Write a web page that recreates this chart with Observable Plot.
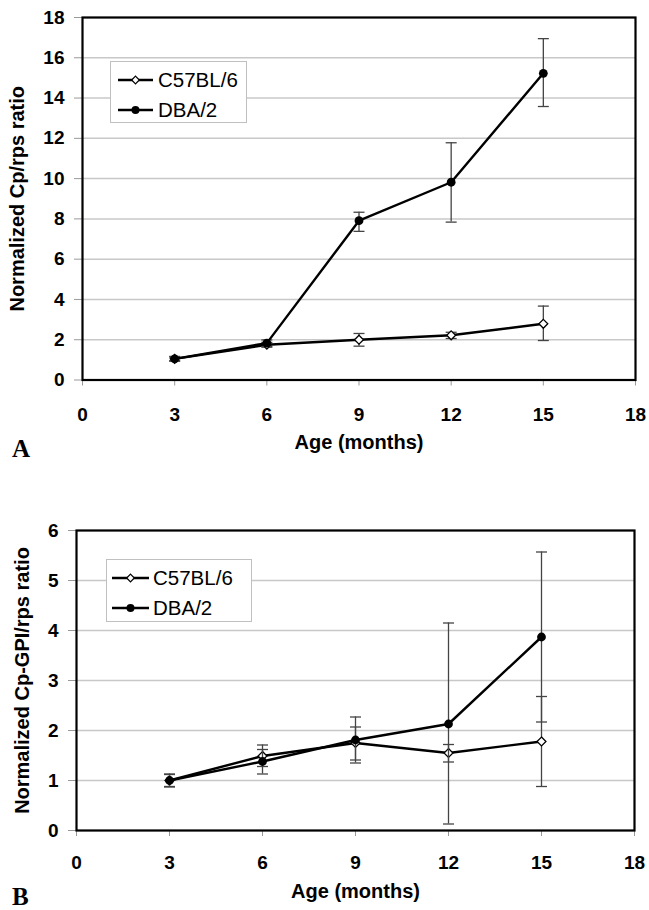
<!DOCTYPE html>
<html><head><meta charset="utf-8">
<script src="https://cdn.jsdelivr.net/npm/d3@7"></script>
<script src="https://cdn.jsdelivr.net/npm/@observablehq/plot@0.6"></script>
<style>
body{margin:0;background:#fff;}
#wrap{position:relative;width:649px;height:910px;overflow:hidden;background:#fff;}
.panel{position:absolute;left:0;}
.panel g[aria-label$="tick label"]{font-size:19px;font-weight:bold;}
.tag{position:absolute;font-family:"Liberation Serif","Times New Roman",serif;font-weight:bold;font-size:25px;line-height:1;}
.legend{position:absolute;}
</style></head><body>
<div id="wrap"></div>
<script>
// ---- shared ----
const months = [3, 6, 9, 12, 15];
const xTicks = [0, 3, 6, 9, 12, 15, 18];
const strains = ["C57BL/6", "DBA/2"];
const xTitle = "Age (months)";

// ---- panel A: Cp/rps ----
const aTitle = "Normalized Cp/rps ratio";
const aTicks = [0, 2, 4, 6, 8, 10, 12, 14, 16, 18];
const aC57 = [1.05, 1.75, 2.0, 2.22, 2.79];
const aC57Lo = [0.96, 1.63, 1.68, 2.06, 1.96];
const aC57Hi = [1.14, 1.87, 2.31, 2.37, 3.67];
const aDBA = [1.05, 1.83, 7.91, 9.82, 15.23];
const aDBALo = [0.93, 1.66, 7.38, 7.84, 13.58];
const aDBAHi = [1.17, 1.99, 8.33, 11.78, 16.95];

// ---- panel B: Cp-GPI/rps ----
const bTitle = "Normalized Cp-GPI/rps ratio";
const bTicks = [0, 1, 2, 3, 4, 5, 6];
const bC57 = [1.0, 1.49, 1.75, 1.55, 1.78];
const bC57Lo = [0.88, 1.28, 1.41, 1.37, 0.88];
const bC57Hi = [1.12, 1.71, 2.07, 1.72, 2.68];
const bDBA = [1.0, 1.38, 1.81, 2.13, 3.87];
const bDBALo = [0.87, 1.13, 1.35, 0.13, 2.17];
const bDBAHi = [1.13, 1.62, 2.27, 4.15, 5.57];

function rows(values, lo, hi, strain) {
  return months.map((m, i) => ({month: m, strain, value: values[i], lo: lo[i], hi: hi[i]}));
}

const capSymbol = {draw(ctx, size) { const w = Math.sqrt(size / Math.PI); ctx.moveTo(-w, 0); ctx.lineTo(w, 0); }};

function seriesMarks(data, open) {
  return [
    Plot.ruleX(data, {x: "month", y1: "lo", y2: "hi", stroke: "#444", strokeWidth: 1.3}),
    Plot.dot(data, {x: "month", y: "lo", symbol: capSymbol, r: 5.5, stroke: "#444", strokeWidth: 1.3, fill: "none"}),
    Plot.dot(data, {x: "month", y: "hi", symbol: capSymbol, r: 5.5, stroke: "#444", strokeWidth: 1.3, fill: "none"}),
    Plot.line(data, {x: "month", y: "value", stroke: "black", strokeWidth: 2.4}),
    open
      ? Plot.dot(data, {x: "month", y: "value", symbol: "diamond2", r: 4, fill: "white", stroke: "black", strokeWidth: 1.3})
      : Plot.dot(data, {x: "month", y: "value", symbol: "circle", r: 4.4, fill: "black"})
  ];
}

function panel(cfg) {
  const c57 = rows(cfg.c57, cfg.c57Lo, cfg.c57Hi, strains[0]);
  const dba = rows(cfg.dba, cfg.dbaLo, cfg.dbaHi, strains[1]);
  return Plot.plot({
    width: 649, height: cfg.height,
    marginLeft: cfg.ml, marginRight: cfg.mr, marginTop: cfg.mt, marginBottom: cfg.mb,
    style: {fontFamily: "'Liberation Sans', Arial, sans-serif", fontSize: "19px", fontWeight: "bold", background: "white", color: "black", overflow: "visible"},
    x: {domain: [0, 18]},
    y: {domain: [cfg.yTicks[0], cfg.yTicks[cfg.yTicks.length - 1]]},
    marks: [
      Plot.gridY(cfg.yTicks, {stroke: "#c8c8c8", strokeOpacity: 1, strokeWidth: 1.5}),
      Plot.axisY(cfg.yTicks, {tickSize: 8, tickPadding: 10, stroke: "#999", fill: "black", label: null, tickFormat: d => String(d)}),
      Plot.axisX(xTicks, {tickSize: 6, tickPadding: cfg.xPad, stroke: "#999", fill: "black", label: null, tickFormat: d => String(d)}),
      ...seriesMarks(c57, true),
      ...seriesMarks(dba, false),
      Plot.frame({stroke: "black", strokeWidth: 2.2}),
      Plot.text([xTitle], {frameAnchor: "bottom", dy: cfg.xTitleDy, fontSize: 20, fontWeight: "bold", fill: "black"}),
      Plot.text([cfg.title], {frameAnchor: "left", textAnchor: "middle", lineAnchor: "middle", dx: cfg.yTitleDx, rotate: -90, fontSize: 20, fontWeight: "bold", fill: "black"})
    ]
  });
}

function legend(left, top, w, h, x1, x2, tx) {
  const svg = d3.create("svg").attr("width", w).attr("height", h);
  svg.append("rect").attr("x", 0.5).attr("y", 0.5).attr("width", w - 1).attr("height", h - 1)
    .attr("fill", "white").attr("stroke", "#c0c0c0").attr("stroke-width", 1);
  const ys = [19, 49];
  strains.forEach((s, i) => {
    const y = ys[i], cx = (x1 + x2) / 2;
    svg.append("line").attr("x1", x1).attr("x2", x2).attr("y1", y).attr("y2", y).attr("stroke", "black").attr("stroke-width", 2.4);
    if (i === 0) {
      svg.append("path").attr("d", `M${cx},${y-3.8}L${cx+3.8},${y}L${cx},${y+3.8}L${cx-3.8},${y}Z`).attr("fill", "white").attr("stroke", "black").attr("stroke-width", 1.2);
    } else {
      svg.append("circle").attr("cx", cx).attr("cy", y).attr("r", 4).attr("fill", "black");
    }
    svg.append("text").attr("x", tx).attr("y", y).attr("dy", "0.35em").text(s)
      .attr("font-family", "'Liberation Sans', Arial, sans-serif").attr("font-size", 20.5).attr("fill", "black");
  });
  const div = document.createElement("div");
  div.className = "legend";
  div.style.left = left + "px"; div.style.top = top + "px";
  div.appendChild(svg.node());
  return div;
}

const wrap = document.getElementById("wrap");

const A = panel({height: 470, ml: 82, mr: 14, mt: 17, mb: 90.5, yTicks: aTicks, title: aTitle,
  c57: aC57, c57Lo: aC57Lo, c57Hi: aC57Hi, dba: aDBA, dbaLo: aDBALo, dbaHi: aDBAHi,
  xPad: 21, xTitleDy: 69, yTitleDx: -64.5});
A.classList.add("panel"); A.style.top = "0px";
wrap.appendChild(A);

const B = panel({height: 440, ml: 76, mr: 15, mt: 60, mb: 80, yTicks: bTicks, title: bTitle,
  c57: bC57, c57Lo: bC57Lo, c57Hi: bC57Hi, dba: bDBA, dbaLo: bDBALo, dbaHi: bDBAHi,
  xPad: 19, xTitleDy: 67, yTitleDx: -53.5});
B.classList.add("panel"); B.style.top = "470px";
wrap.appendChild(B);

wrap.appendChild(legend(110, 61, 137, 62, 8, 43, 48));
wrap.appendChild(legend(106, 559, 146, 63, 6, 43, 47));

const tA = document.createElement("div"); tA.className = "tag"; tA.textContent = "A";
tA.style.left = "12px"; tA.style.top = "436px"; wrap.appendChild(tA);
const tB = document.createElement("div"); tB.className = "tag"; tB.textContent = "B";
tB.style.left = "12px"; tB.style.top = "884px"; wrap.appendChild(tB);
</script>
</body></html>
